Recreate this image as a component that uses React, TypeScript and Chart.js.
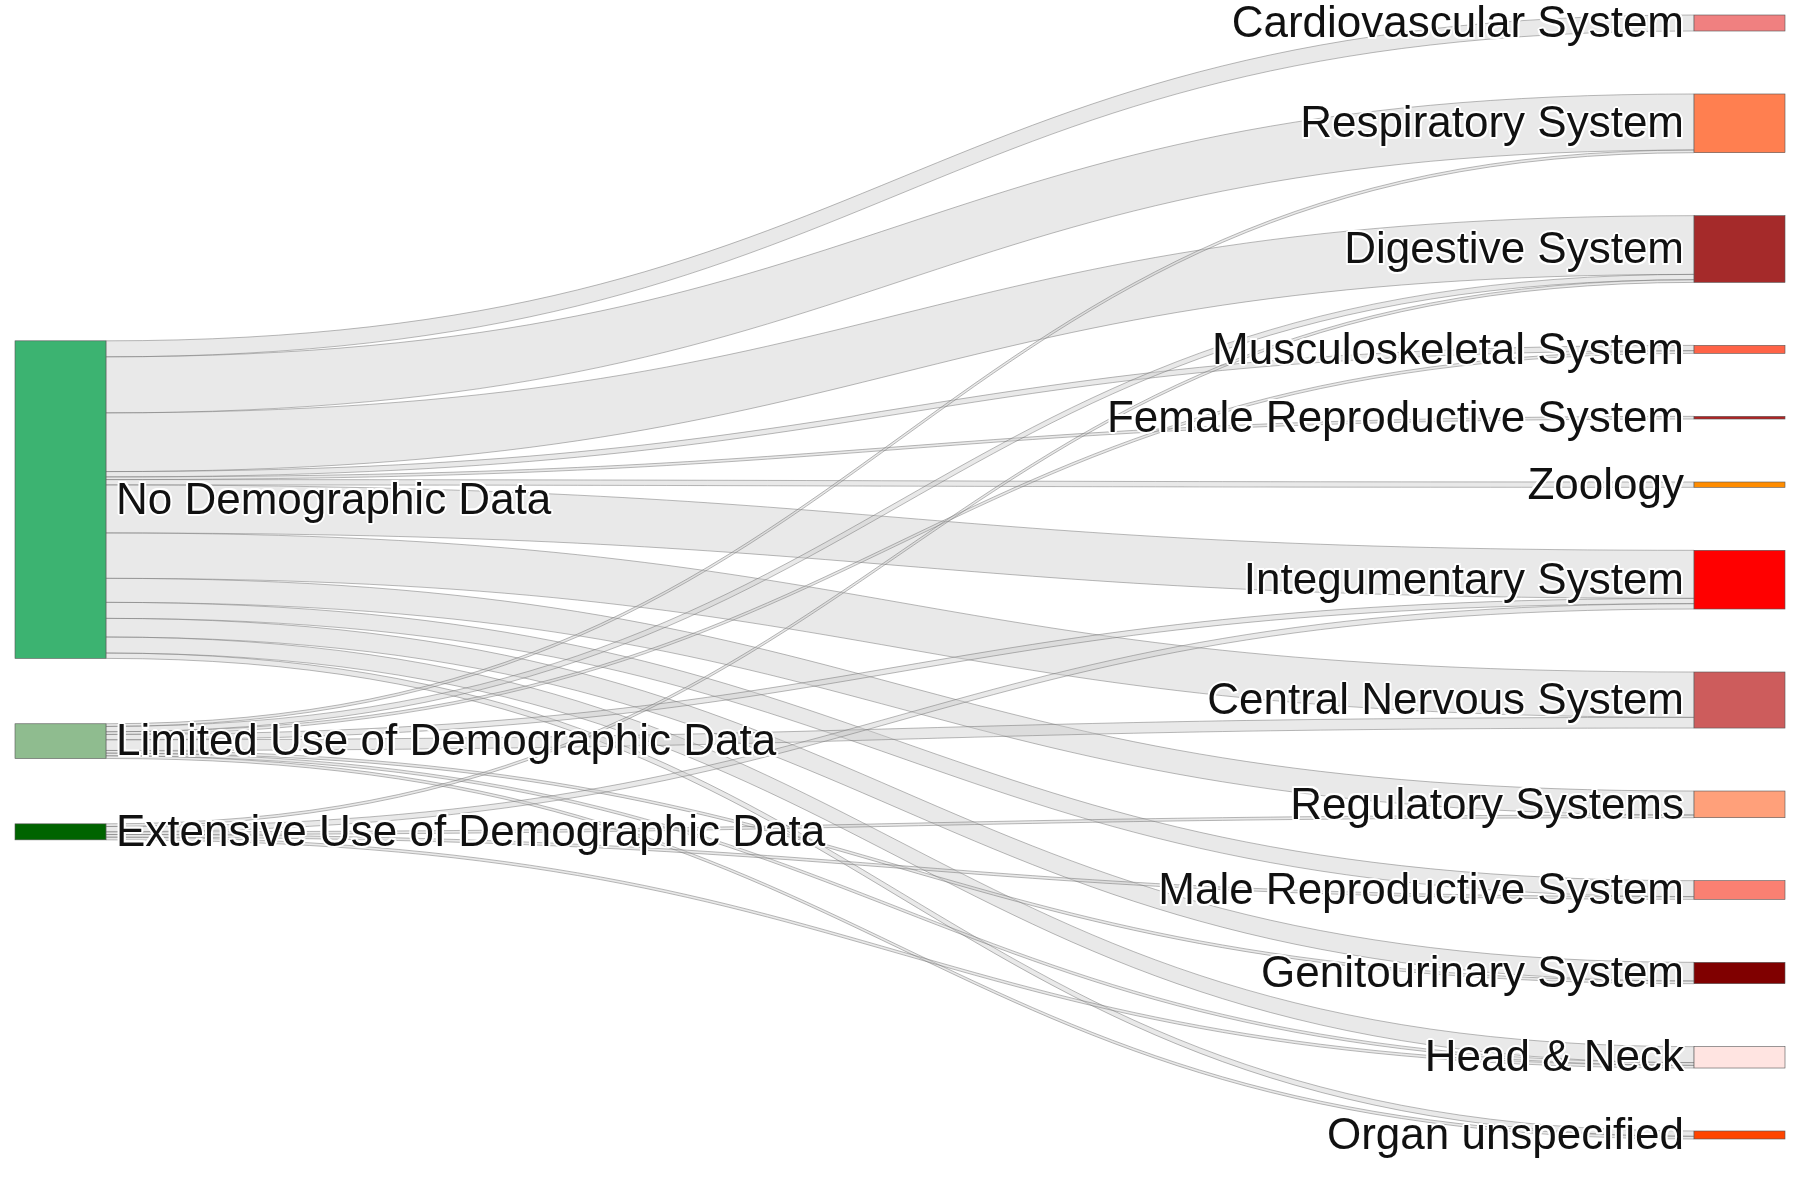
import { useEffect, useRef } from "react"
import { Chart, registerables } from "chart.js"

Chart.register(...registerables)

const sources = ["No Demographic Data", "Limited Use of Demographic Data", "Extensive Use of Demographic Data"]
const sourceColors = ["#3cb371", "#8fbc8f", "#006400"]
const targets = [
  "Cardiovascular System", "Respiratory System", "Digestive System", "Musculoskeletal System",
  "Female Reproductive System", "Zoology", "Integumentary System", "Central Nervous System",
  "Regulatory Systems", "Male Reproductive System", "Genitourinary System", "Head & Neck", "Organ unspecified",
]
const targetColors = [
  "#f08080", "#ff7f50", "#a52a2a", "#ff6347", "#b22222", "#ff8c00", "#ff0000",
  "#cd5c5c", "#ffa07a", "#fa8072", "#800000", "#ffe4e1", "#ff4500",
]
// flows per source, in target order
const noDemographic = [6, 21, 22, 2, 1, 2, 18, 17, 9, 6, 7, 6, 2]
const limitedUse = [0, 1, 2, 1, 0, 0, 2, 4, 0, 0, 1, 1, 1]
const extensiveUse = [0, 0, 1, 0, 0, 0, 2, 0, 1, 1, 0, 1, 0]
const flows = [noDemographic, limitedUse, extensiveUse]

const GAP = 23.6
const LEFT_GAP = 24.5
const NODE_W = 0.0514

export default function App() {
  const chartRef = useRef<HTMLCanvasElement>(null)
  const chartInstance = useRef<Chart | null>(null)

  useEffect(() => {
    if (!chartRef.current) return
    const ctx = chartRef.current.getContext("2d")
    if (!ctx) return
    if (chartInstance.current) chartInstance.current.destroy()

    const srcTotals = flows.map((f) => f.reduce((a, b) => a + b, 0))
    const tgtTotals = targets.map((_, j) => flows.reduce((a, f) => a + f[j], 0))
    const rightTotal = tgtTotals.reduce((a, b) => a + b, 0) + GAP * (targets.length - 1)
    const leftTotal = srcTotals.reduce((a, b) => a + b, 0) + LEFT_GAP * (sources.length - 1)

    const srcY: number[] = []
    let y = (rightTotal - leftTotal) / 2 + 5
    srcTotals.forEach((t) => { srcY.push(y); y += t + LEFT_GAP })
    const tgtY: number[] = []
    y = 0
    tgtTotals.forEach((t) => { tgtY.push(y); y += t + GAP })

    const sankey = {
      id: "sankey",
      afterDatasetsDraw(chart: Chart) {
        const c = chart.ctx
        const xs = chart.scales.x
        const ys = chart.scales.y
        const px = (v: number) => xs.getPixelForValue(v)
        const py = (v: number) => ys.getPixelForValue(v)
        const x0 = px(NODE_W)
        const x1 = px(1 - NODE_W)
        const xm = (x0 + x1) / 2

        // links
        const tgtOff = tgtY.slice()
        flows.forEach((f, i) => {
          let so = srcY[i]
          f.forEach((v, j) => {
            if (!v) return
            const sa = py(so), sb = py(so + v)
            const ta = py(tgtOff[j]), tb = py(tgtOff[j] + v)
            c.beginPath()
            c.moveTo(x0, sa)
            c.bezierCurveTo(xm, sa, xm, ta, x1, ta)
            c.lineTo(x1, tb)
            c.bezierCurveTo(xm, tb, xm, sb, x0, sb)
            c.closePath()
            c.fillStyle = "rgba(200,200,200,0.4)"
            c.fill()
            c.strokeStyle = "rgba(110,110,110,0.6)"
            c.lineWidth = 0.8
            c.stroke()
            so += v
            tgtOff[j] += v
          })
        })

        // nodes
        const drawNode = (xa: number, xb: number, ya: number, h: number, col: string) => {
          c.fillStyle = col
          c.fillRect(xa, py(ya), xb - xa, py(ya + h) - py(ya))
          c.strokeStyle = "#555"
          c.lineWidth = 0.6
          c.strokeRect(xa, py(ya), xb - xa, py(ya + h) - py(ya))
        }
        sources.forEach((_, i) => drawNode(px(0), x0, srcY[i], srcTotals[i], sourceColors[i]))
        targets.forEach((_, j) => drawNode(x1, px(1), tgtY[j], tgtTotals[j], targetColors[j]))

        // labels
        c.font = "44px 'Liberation Sans', Arial, sans-serif"
        c.textBaseline = "middle"
        const label = (t: string, x: number, yy: number) => {
          c.fillStyle = "#fff"
          for (const [dx, dy] of [[-2, 0], [2, 0], [0, -2], [0, 2], [-1.5, -1.5], [1.5, 1.5], [-1.5, 1.5], [1.5, -1.5]]) {
            c.fillText(t, x + dx, yy + dy)
          }
          c.fillStyle = "#111"
          c.fillText(t, x, yy)
        }
        c.textAlign = "left"
        sources.forEach((s, i) => label(s, x0 + 10, py(srcY[i] + srcTotals[i] / 2) + 2))
        c.textAlign = "right"
        targets.forEach((t, j) => label(t, x1 - 10, py(tgtY[j] + tgtTotals[j] / 2) + 2))
      },
    }

    chartInstance.current = new Chart(ctx, {
      type: "scatter",
      data: { datasets: [{ data: [] }] },
      options: {
        animation: false,
        responsive: false,
        layout: { padding: { left: 15, right: 15, top: 15, bottom: 61 } },
        plugins: { legend: { display: false }, tooltip: { enabled: false } },
        scales: {
          x: { type: "linear", min: 0, max: 1, display: false },
          y: { type: "linear", min: 0, max: rightTotal, reverse: true, display: false },
        },
      },
      plugins: [sankey],
    })

    return () => {
      if (chartInstance.current) chartInstance.current.destroy()
    }
  }, [])

  return (
    <div style={{ position: "absolute", left: 0, top: 0, width: 1800, height: 1200, background: "#fff" }}>
      <canvas ref={chartRef} width={1800} height={1200} aria-label="Sankey chart" role="img"></canvas>
    </div>
  )
}
